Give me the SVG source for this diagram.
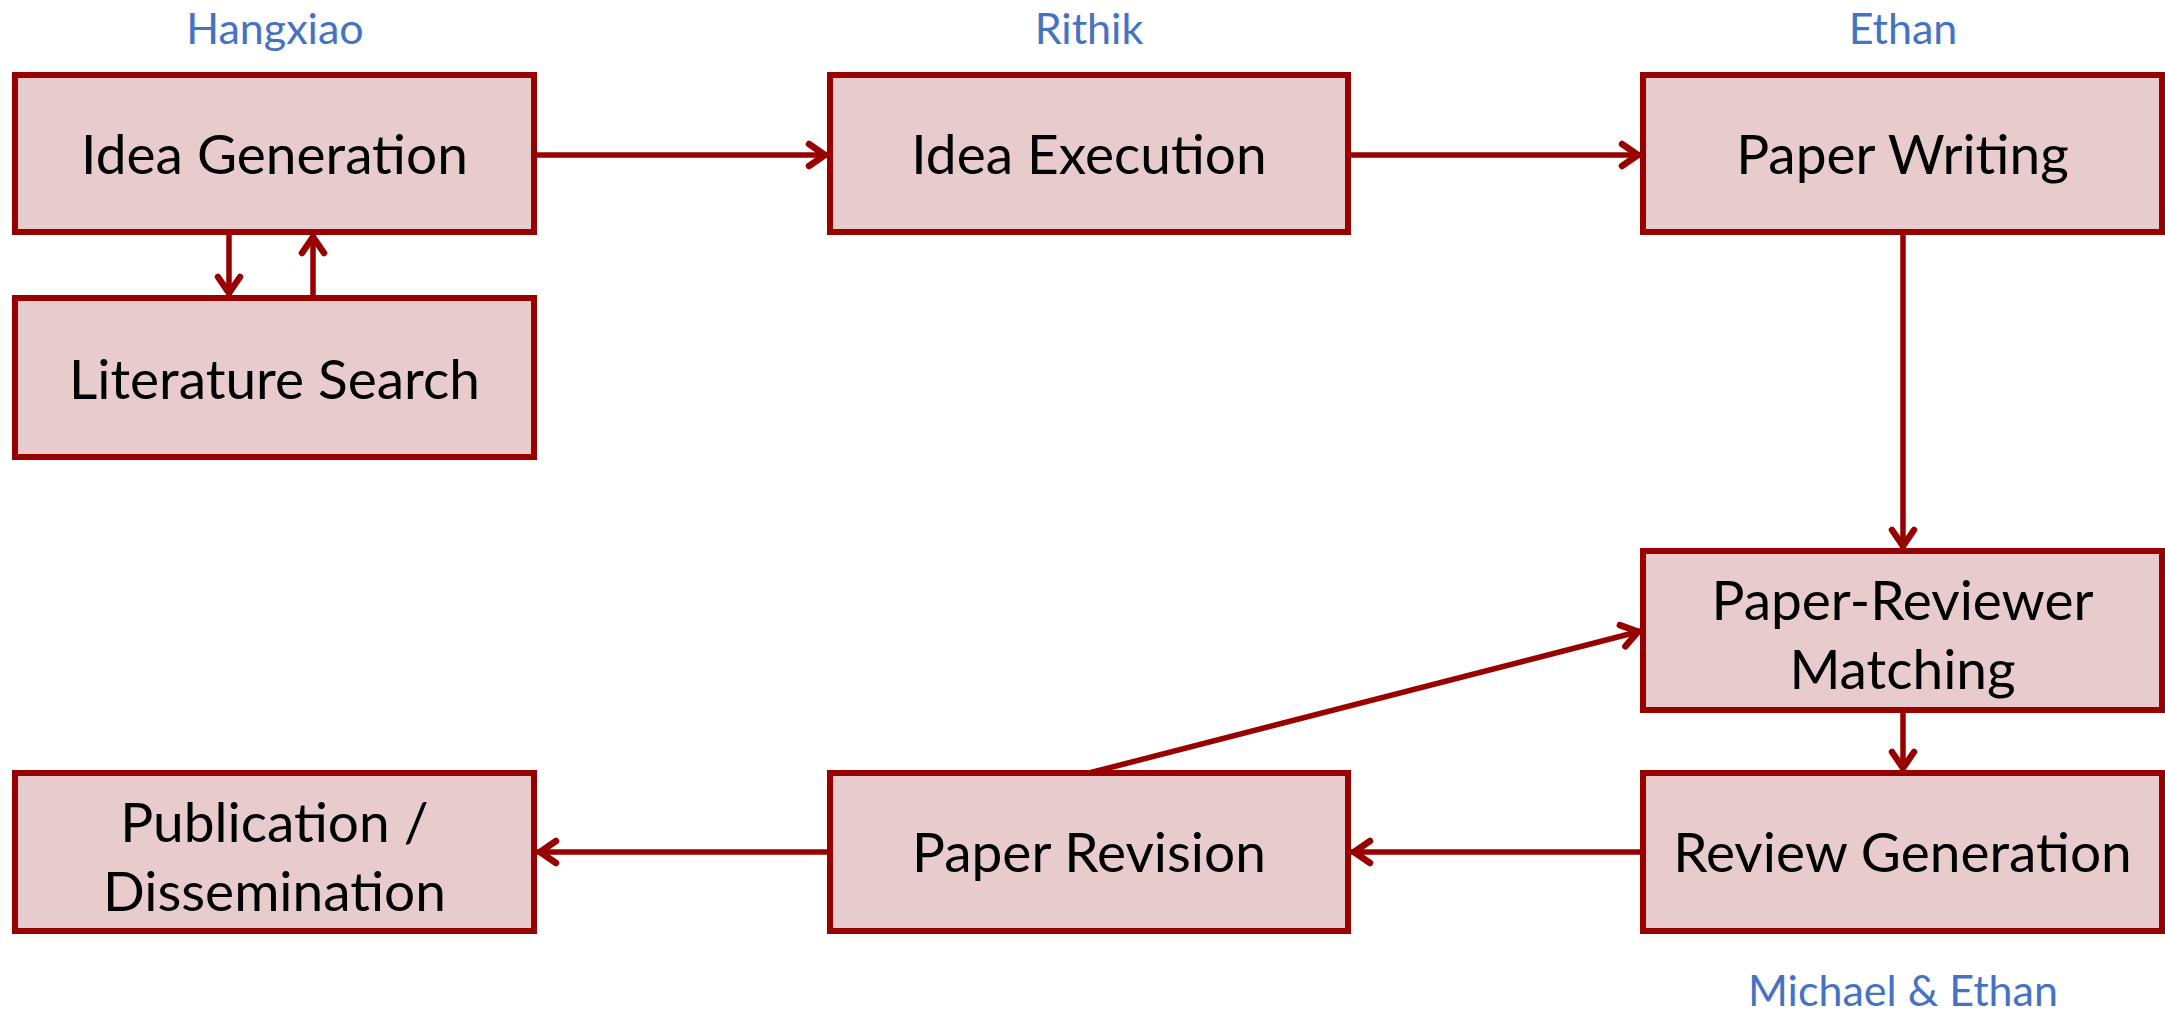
<svg xmlns="http://www.w3.org/2000/svg" width="2165" height="1012" viewBox="0 0 2165 1012">
  <style>
    .box { fill: #E8CBCC; stroke: #990000; stroke-width: 6; }
    .label { font-family: Lato, "Open Sans", sans-serif; font-size: 55px; fill: #000; text-anchor: middle; }
    .owner { font-family: Lato, "Open Sans", sans-serif; font-size: 43px; fill: #4472C4; text-anchor: middle; }
    .link { fill: none; stroke: #990000; stroke-width: 5.5; marker-end: url(#arrow); }
  </style>
  <defs>
    <marker id="arrow" markerUnits="userSpaceOnUse" markerWidth="40" markerHeight="40" viewBox="-30 -20 40 40" refX="0" refY="0" orient="auto">
      <path d="M-19,-11 L-3,0 L-19,11" fill="none" stroke="#990000" stroke-width="6.5" stroke-linecap="round" stroke-linejoin="miter"/>
    </marker>
  </defs>
  <rect width="2165" height="1012" fill="#FFFFFF"/>

  <!-- owner labels -->
  <g id="owners">
    <text class="owner" x="275" y="44">Hangxiao</text>
    <text class="owner" x="1089" y="44">Rithik</text>
    <text class="owner" x="1903" y="44">Ethan</text>
    <text class="owner" x="1903" y="1006">Michael &amp; Ethan</text>
  </g>

  <!-- connectors -->
  <g id="connectors">
    <line class="link" x1="534" y1="155" x2="828" y2="155"/>
    <line class="link" x1="1348" y1="155" x2="1641" y2="155"/>
    <line class="link" x1="1903" y1="232" x2="1903" y2="549"/>
    <line class="link" x1="1903" y1="710" x2="1903" y2="771"/>
    <line class="link" x1="1643" y1="852" x2="1351" y2="852"/>
    <line class="link" x1="830" y1="852" x2="537" y2="852"/>
    <line class="link" x1="1089" y1="773" x2="1641" y2="631"/>
    <line class="link" x1="229" y1="232" x2="229" y2="296"/>
    <line class="link" x1="313" y1="298" x2="313" y2="234"/>
  </g>

  <g id="idea-generation">
    <rect class="box" x="15" y="75" width="519" height="157"/>
    <text class="label" x="274.5" y="174">Idea Generation</text>
  </g>
  <g id="literature-search">
    <rect class="box" x="15" y="298" width="519" height="159"/>
    <text class="label" x="274.5" y="399">Literature Search</text>
  </g>
  <g id="idea-execution">
    <rect class="box" x="830" y="75" width="518" height="157"/>
    <text class="label" x="1089" y="174">Idea Execution</text>
  </g>
  <g id="paper-writing">
    <rect class="box" x="1643" y="75" width="519" height="157"/>
    <text class="label" x="1902.5" y="174">Paper Writing</text>
  </g>
  <g id="paper-reviewer-matching">
    <rect class="box" x="1643" y="551" width="519" height="159"/>
    <text class="label" x="1902.5" y="620">Paper-Reviewer</text>
    <text class="label" x="1902.5" y="689">Matching</text>
  </g>
  <g id="review-generation">
    <rect class="box" x="1643" y="773" width="519" height="158"/>
    <text class="label" x="1902.5" y="872">Review Generation</text>
  </g>
  <g id="paper-revision">
    <rect class="box" x="830" y="773" width="518" height="158"/>
    <text class="label" x="1089" y="872">Paper Revision</text>
  </g>
  <g id="publication">
    <rect class="box" x="15" y="773" width="519" height="158"/>
    <text class="label" x="274.5" y="842">Publication /</text>
    <text class="label" x="274.5" y="911">Dissemination</text>
  </g>
</svg>
